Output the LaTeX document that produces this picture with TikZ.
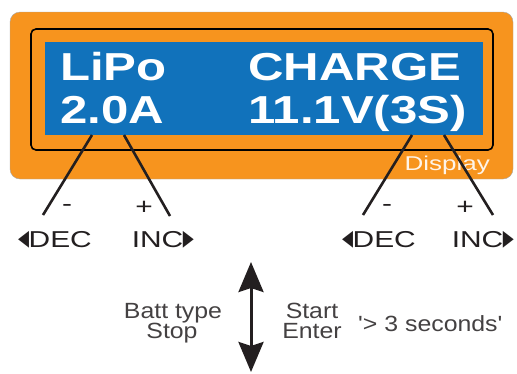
\documentclass[tikz,border=0pt]{standalone}
\usepackage{fontspec}
\usetikzlibrary{arrows.meta}
\usepackage{xcolor}
\newfontfamily\lcdfont[FakeStretch=1.26]{Liberation Sans}
\newfontfamily\keyfont[FakeStretch=1.3]{Liberation Sans}
\newfontfamily\notefont[FakeStretch=1.13,Ligatures=TeXOff]{Liberation Sans}
\newfontfamily\symbfont{DejaVu Sans}
\newcommand{\decmark}{\raisebox{1.5pt}{\scalebox{0.65}[1]{\symbfont\fontsize{22}{22}\selectfont ◀}}\kern-0.5pt}
\newcommand{\incmark}{\kern-0.5pt\raisebox{1.5pt}{\scalebox{0.65}[1]{\symbfont\fontsize{22}{22}\selectfont ▶}}}
\definecolor{caseorange}{RGB}{247, 148, 30}
\definecolor{lcdblue}{RGB}{17, 114, 187}
\definecolor{wire}{RGB}{35, 31, 32}

\begin{document}
\begin{tikzpicture}[x=1pt, y=-1pt,
    lcdtext/.style={anchor=base west, inner sep=0pt, text=white, font=\lcdfont\bfseries\fontsize{39}{39}\selectfont},
    keytext/.style={inner sep=0pt, text=wire, font=\keyfont\fontsize{23}{23}\selectfont},
    notetext/.style={anchor=base, inner sep=0pt, text=wire!85, font=\notefont\fontsize{22}{22}\selectfont},
    wireline/.style={wire, line width=2.6pt}]
    \useasboundingbox (0,0) rectangle (517,373);

    % display housing
    \node[draw=gray!70, fill=caseorange, rounded corners=10pt, minimum width=503pt, minimum height=167pt] (case) at (261.5,95.5) {};
    \node[draw=black, line width=1.6pt, rounded corners=5pt, minimum width=462pt, minimum height=121pt] (frame) at (262,89.5) {};
    \node[fill=lcdblue, minimum width=438pt, minimum height=93pt, inner sep=0pt] (lcd) at (264,88.5) {};

    \node[lcdtext] (chem) at (60,80) {LiPo};
    \node[lcdtext] (amps) at (60,123) {2.0A};
    \node[lcdtext] (mode) at (248,80) {CHARGE};
    \node[lcdtext] (volts) at (248,123) {11.1V(3S)};
    \node[anchor=base east, inner sep=0pt, text=white!90!caseorange, font=\keyfont\fontsize{20}{20}\selectfont] (caption) at (490,170) {Display};

    % key labels
    \node[keytext] (minusL) at (67,208) {-};
    \node[keytext] (plusL) at (144,208) {+};
    \node[keytext, anchor=base west] (decL) at (18,247) {\decmark DEC};
    \node[keytext, anchor=base east] (incL) at (194,247) {INC\incmark};
    \node[keytext] (minusR) at (387,208) {-};
    \node[keytext] (plusR) at (465,208) {+};
    \node[keytext, anchor=base west] (decR) at (342,247) {\decmark DEC};
    \node[keytext, anchor=base east] (incR) at (514,247) {INC\incmark};

    \coordinate (wire1) at (92,135);  \coordinate (end1) at (43,215);
    \coordinate (wire2) at (124,135); \coordinate (end2) at (170,216);
    \coordinate (wire3) at (412,135); \coordinate (end3) at (363,215);
    \coordinate (wire4) at (444,135); \coordinate (end4) at (493,215);
    \draw[wireline] (wire1) -- (end1);
    \draw[wireline] (wire2) -- (end2);
    \draw[wireline] (wire3) -- (end3);
    \draw[wireline] (wire4) -- (end4);

    % button notes
    \node[notetext] (batt) at (173,318) {Batt type};
    \node[notetext] (stop) at (172,338) {Stop};
    \node[notetext] (start) at (312,318) {Start};
    \node[notetext] (enter) at (312,338) {Enter};
    \node[notetext, anchor=base west] (hold) at (358,331) {'> 3 seconds'};

    \coordinate (upper) at (251,262);
    \coordinate (lower) at (251,372);
    \draw[wire, line width=3pt, {Stealth[length=30pt, width=25pt, inset=4pt]}-{Stealth[length=30pt, width=25pt, inset=4pt]}] (upper) -- (lower);
\end{tikzpicture}
\end{document}
